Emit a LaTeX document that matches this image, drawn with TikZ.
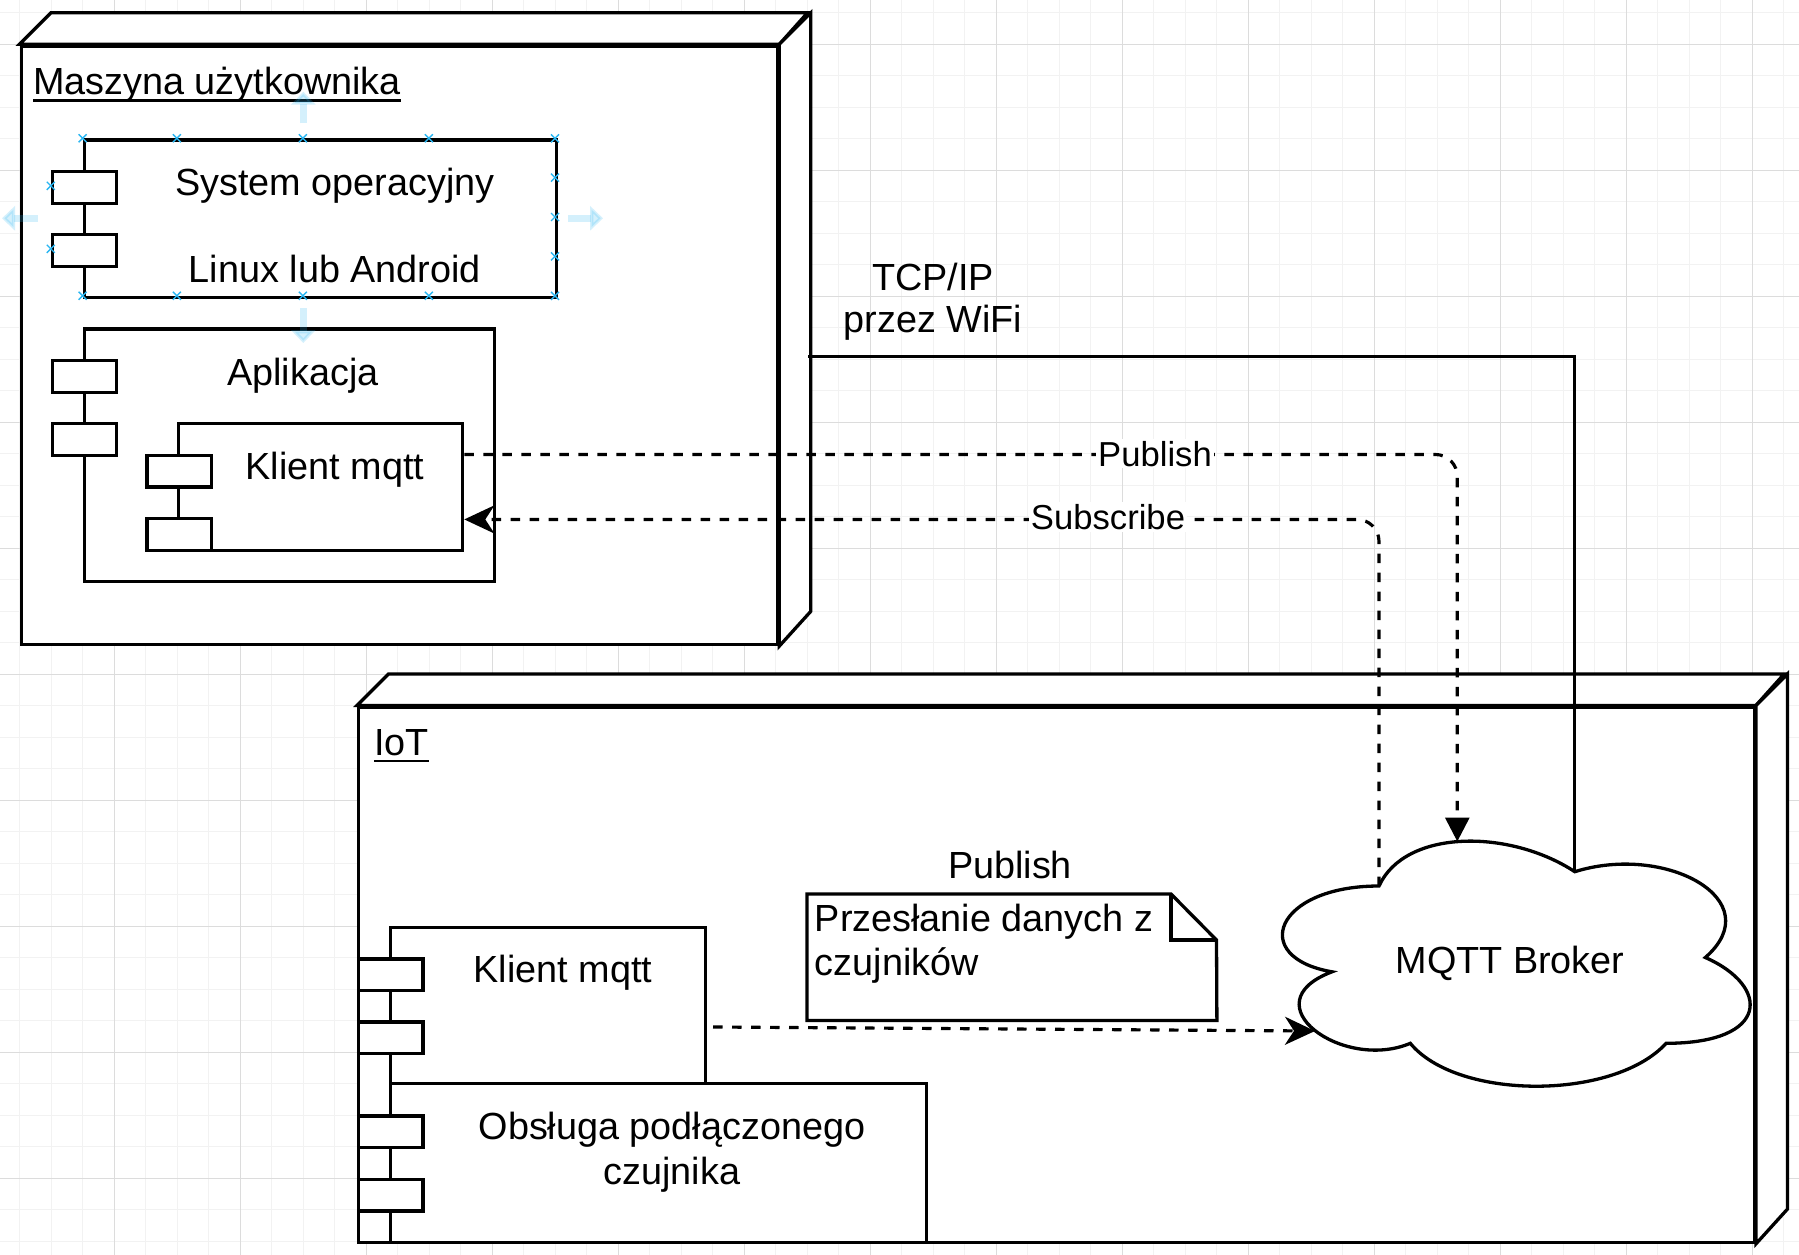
\documentclass[tikz,border=0pt]{standalone}
\usepackage{fontspec}
\setmainfont{Liberation Sans}
\usetikzlibrary{arrows.meta,calc}
\definecolor{gminor}{HTML}{F2F2F2}
\definecolor{gmajor}{HTML}{DCDCDC}
\definecolor{selblue}{HTML}{29B6F2}
\begin{document}
\begin{tikzpicture}[x=1pt,y=-1pt,
  shp/.style={draw=black,line width=3.3pt,fill=white,line join=miter},
  nbox/.style={shp,inner sep=0,anchor=north west},
  port/.style={nbox,minimum width=64.2pt,minimum height=31.5pt},
  txt/.style={font=\fontsize{37.8}{44}\selectfont,inner sep=0},
  elbl/.style={font=\fontsize{34.65}{40}\selectfont,fill=white,inner sep=2pt},
  conn/.style={line width=3.15pt},
  dconn/.style={conn,dash pattern=on 9.5pt off 9.5pt},
  selarr/.style={draw=selblue,opacity=0.2,line width=7pt,-{Triangle[length=13pt,width=24pt]}},
  selx/.style={draw=selblue,line width=1.4pt},
]
\fill[white] (0,0) rectangle (1799,1255);
\useasboundingbox (0,0) rectangle (1799,1255);
% grid
\foreach \i in {0,...,56} \draw[gminor,line width=1.2pt] ({19.8+31.5*\i},0) -- ({19.8+31.5*\i},1255);
\foreach \j in {-1,...,38} \draw[gminor,line width=1.2pt] (0,{44.3+31.5*\j}) -- (1799,{44.3+31.5*\j});
\foreach \i in {-1,...,13} \draw[gmajor,line width=1.2pt] ({114.3+126*\i},0) -- ({114.3+126*\i},1255);
\foreach \j in {0,...,9} \draw[gmajor,line width=1.2pt] (0,{44.3+126*\j}) -- (1799,{44.3+126*\j});

% ---------- Maszyna uzytkownika ----------
\node[nbox,minimum width=756.5pt,minimum height=598.5pt] (m1) at (19.5,44.3) {};
\draw[shp] (m1.north west) -- ++(31.5,-31.5) -- ++(756.5,0) -- (m1.north east) -- cycle;
\draw[shp] (m1.north east) -- ++(31.5,-31.5) -- ++(0,598.5) -- (m1.south east) -- cycle;
\node[txt,anchor=base west] (m1lbl) at (33,95) {Maszyna użytkownika};
\draw[line width=2.6pt] ($(m1lbl.base west)+(0,5.5)$) -- ($(m1lbl.base east)+(0,5.5)$);

\node[nbox,minimum width=472.4pt,minimum height=157.5pt] (os) at (82.6,138.3) {};
\node[port] (osp1) at (50.8,170) {};
\node[port] (osp2) at (50.8,233) {};
\node[txt,anchor=base] (ost1) at (335,195) {System operacyjny};
\node[txt,anchor=base] (ost2) at (335,282.5) {Linux lub Android};

\node[nbox,minimum width=410.1pt,minimum height=252.7pt] (app) at (82.6,327.3) {};
\node[port] (appp1) at (50.8,359) {};
\node[port] (appp2) at (50.8,422) {};
\node[txt,anchor=base] (appt) at (303,385) {Aplikacja};

\node[nbox,minimum width=284.2pt,minimum height=126.6pt] (kl1) at (176.8,422) {};
\node[port] (kl1p1) at (145.3,453.8) {};
\node[port] (kl1p2) at (145.3,517) {};
\node[txt,anchor=base] (kl1t) at (335,479) {Klient mqtt};

% ---------- IoT ----------
\node[nbox,minimum width=1395.6pt,minimum height=535.1pt] (iot) at (357,705.5) {};
\draw[shp] (iot.north west) -- ++(31.5,-31.5) -- ++(1395.6,0) -- (iot.north east) -- cycle;
\draw[shp] (iot.north east) -- ++(31.5,-31.5) -- ++(0,535.1) -- (iot.south east) -- cycle;
\node[txt,anchor=base west] (iotlbl) at (374,755) {IoT};
\draw[line width=2.6pt] ($(iotlbl.base west)+(0,6)$) -- ($(iotlbl.base east)+(0,6)$);

\node[nbox,minimum width=315.5pt,minimum height=156.4pt] (kl2) at (388.5,925.6) {};
\node[port] (kl2p1) at (357,957.2) {};
\node[port] (kl2p2) at (357,1020.2) {};
\node[txt,anchor=base] (kl2t) at (563,982) {Klient mqtt};

\node[nbox,minimum width=536.5pt,minimum height=158.6pt] (obs) at (388.5,1082) {};
\node[port] (obsp1) at (357,1114.3) {};
\node[port] (obsp2) at (357,1177.8) {};
\node[txt,anchor=base] (obst1) at (672,1139.5) {Obsługa podłączonego};
\node[txt,anchor=base] (obst2) at (672,1184) {czujnika};

% note
\node[inner sep=0,minimum width=409.5pt,minimum height=126pt,anchor=north west] (note) at (807,894) {};
\draw[shp] (note.north west) -- ++(364,0) -- ++(45.5,46) -- (note.south east) -- (note.south west) -- cycle;
\draw[shp,fill=none] ($(note.north west)+(364,0)$) -- ++(0,46) -- ++(45.5,0);
\node[txt,anchor=base west] (nt1) at (814.6,931.5) {Przesłanie danych z};
\node[txt,anchor=base west] (nt2) at (814.6,975.5) {czujników};
\node[txt,anchor=base] (pub2) at (1010,878.5) {Publish};

% cloud
\draw[shp] (1379.0,886.0) .. controls (1274.6,886.0) and (1248.5,957.5) .. (1332.0,971.8)
 .. controls (1248.5,1003.3) and (1342.5,1071.9) .. (1410.3,1043.3)
 .. controls (1457.3,1100.5) and (1613.9,1100.5) .. (1666.1,1043.3)
 .. controls (1770.5,1043.3) and (1770.5,986.1) .. (1705.3,957.5)
 .. controls (1770.5,900.3) and (1666.1,843.1) .. (1574.8,871.7)
 .. controls (1509.5,828.8) and (1405.1,828.8) .. (1379.0,886.0) -- cycle;
\node[txt,anchor=base] (broker) at (1510,973.5) {MQTT Broker};

\coordinate (cTop) at (1457.3,841.5);
\coordinate (cTL) at (1379,886);
\coordinate (cTR) at (1574.8,871.7);
\coordinate (cLeft) at (1315,1031);
\coordinate (m1out) at (808,356.5);
\coordinate (kl2out) at (713,1027);

% connectors
\draw[conn] (m1out) -| (cTR);
\draw[dconn,rounded corners=22pt,-{Triangle[length=24pt,width=24pt]}]
  ($(kl1.north east)!0.25!(kl1.south east)$) -| (cTop);
\draw[dconn,rounded corners=22pt,-{Stealth[length=30pt,width=28pt,inset=9pt]}]
  (cTL) |- ($(kl1.north east)!0.75!(kl1.south east)$);
\draw[dconn,-{Stealth[length=30pt,width=28pt,inset=9pt]}] (kl2out) -- (cLeft);

\node[elbl] (lpub) at (1155,453.65) {Publish};
\node[elbl] (lsub) at (1108,517) {Subscribe};
\node[txt,anchor=base] (tcp1) at (933,290) {TCP/IP};
\node[txt,anchor=base] (tcp2) at (933,332.5) {przez WiFi};

% selection handles
\draw[selarr] (303.3,123) -- (303.3,91.7);
\draw[selarr] (37.6,218.3) -- (2,218.3);
\draw[selarr] (568,218.3) -- (603,218.3);
\draw[selarr] (303.3,308) -- (303.3,343);
\foreach \x/\y in {82.6/138.3,176.9/138.3,302.9/138.3,428.9/138.3,555/138.3,
  82.6/295.8,176.9/295.8,302.9/295.8,428.9/295.8,555/295.8,
  555/177.7,555/217,555/256.4,50.8/185.8,50.8/248.8}
  \draw[selx] ({\x-4},{\y-4}) -- ({\x+4},{\y+4}) ({\x-4},{\y+4}) -- ({\x+4},{\y-4});
\end{tikzpicture}
\end{document}
